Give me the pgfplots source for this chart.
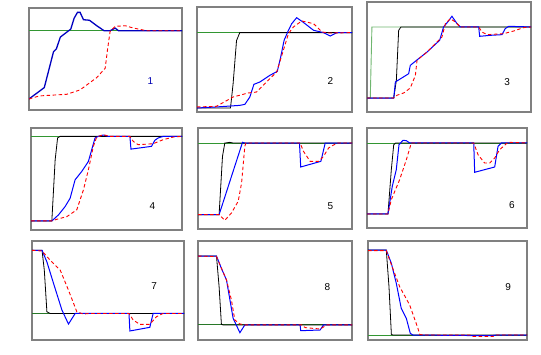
\documentclass[border=0pt]{standalone}
\usepackage{pgfplots}
\pgfplotsset{compat=1.18}
\usepackage{fontspec}
\setmainfont{Liberation Sans}
\definecolor{sp}{RGB}{50,150,50}
\definecolor{fr}{RGB}{128,128,128}
\pgfplotsset{
  panel/.style={scale only axis, anchor=south west, xmin=0, xmax=100, ymin=0, ymax=100,
    ticks=none, axis line style={fr, line width=1.1pt}, clip=true},
  spl/.style={sp, line width=0.9pt, mark=none},
  bk/.style={black, line width=0.8pt, mark=none},
  bl/.style={blue, line width=1pt, mark=none},
  rd/.style={red, line width=0.9pt, dash pattern=on 3.5pt off 2.5pt, mark=none},
}
\tikzset{lab/.style={font=\fontsize{10}{11}\selectfont}}
\begin{document}
\begin{tikzpicture}
\path[use as bounding box] (0,0) rectangle (541pt,355pt);
% Panel 1
\begin{axis}[panel, at={(29pt,245pt)}, width=153pt, height=102pt]
\addplot[spl] coordinates {(0,77.7) (100,77.7)};
\addplot[bl, line width=1.3pt, blue!75!black] coordinates {(0,10.8) (10,22) (16,57) (17.9,60) (20.5,71.5) (27.3,79.3) (29.5,90) (31.7,95.7) (33.4,95.7) (35.6,88.5) (39.5,88) (44.3,82.6) (49.1,77.7) (53,77.7) (56.3,80.3) (58.5,77.7) (100,77.7)};
\addplot[rd] coordinates {(0,10.8) (6.8,13.8) (24.7,15.4) (33.4,19.7) (44.3,31.8) (49.8,41) (51.3,59) (53,77) (56.3,82) (62.9,82.6) (68.3,80.3) (77,77.7) (100,77.7)};
\node[lab, text=blue!70!black] at (axis cs:79.3,27.9) {1};
\end{axis}
% Panel 2
\begin{axis}[panel, at={(197pt,243pt)}, width=155pt, height=105pt]
\addplot[spl] coordinates {(0,75.6) (100,75.6)};
\addplot[bk] coordinates {(0,3.8) (21.6,3.8) (23.3,27) (25.5,68) (27.6,75.6) (100,75.6)};
\addplot[bl] coordinates {(0,3.8) (12.5,4.8) (27.6,6.3) (30.9,7.3) (34.1,14.3) (36.7,26.3) (40.6,28.6) (47,34.9) (51.8,38.7) (54,52.4) (56.2,68.3) (59,77.8) (61.1,84.1) (64.3,89.8) (68.3,85.7) (75.2,77.8) (81.6,75.6) (86,72.4) (90.3,75.6) (100,75.6)};
\addplot[rd] coordinates {(0,4.8) (12.5,5.4) (16.8,8.9) (23.3,14.3) (33,18.1) (38.4,19) (43.8,27) (51.4,38.1) (55.7,58.7) (59,74.6) (62.2,81) (67.6,86.7) (75.2,84.1) (80.6,76.2) (86,75.2) (100,75.6)};
\node[lab] at (axis cs:86,29.5) {2};
\end{axis}
% Panel 3
\begin{axis}[panel, at={(367pt,243pt)}, width=164pt, height=110pt]
\addplot[spl, sp!70!white] coordinates {(0,12.7) (2,12.7) (3,77.3) (100,77.3)};
\addplot[bk] coordinates {(0,12.7) (16.3,12.7) (17.9,28.8) (19.3,74.2) (20.7,77.3) (100,77.3)};
\addplot[bl] coordinates {(0,12.7) (16.3,12.7) (17.3,27.3) (25.4,34.8) (26.4,42.4) (31.5,48.5) (36.6,54.5) (44.3,65.2) (46.7,77.3) (49.2,81.8) (51.8,87) (54.9,80.3) (56.9,77.3) (68.1,77.3) (68.7,68.8) (75.2,69.7) (82.3,70.3) (84.3,75.8) (86.4,77.9) (100,77.3)};
\addplot[rd] coordinates {(0,12.7) (16.3,12.7) (18.3,15.2) (22.4,17.3) (26.4,21.8) (29.5,33.3) (30.5,47) (36.6,54.5) (45.7,68.2) (47.8,80.3) (50.8,84.8) (53.9,81.8) (56.9,77.3) (68.1,77.3) (70.1,72.7) (73.2,70.3) (83.3,71.2) (89.4,73.6) (95.5,76.7) (100,77.3)};
\node[lab] at (axis cs:85.4,27.3) {3};
\end{axis}
% Panel 4
\begin{axis}[panel, at={(31pt,125pt)}, width=151pt, height=102pt]
\addplot[spl] coordinates {(0,91.8) (100,91.8)};
\addplot[bk] coordinates {(0,8.9) (13.8,8.9) (16,68.9) (17.6,90.2) (19.3,91.8) (100,91.8)};
\addplot[bl] coordinates {(0,8.9) (13.8,8.9) (18.2,14.8) (22.6,23) (25.9,31.1) (29.2,49.2) (33.6,57.4) (38,67.2) (40.2,78.7) (42.4,90.2) (44.6,91.8) (47.9,93.1) (51.2,91.8) (65.5,91.8) (66.2,79.3) (79.8,82) (82,87.9) (84.2,90.2) (87.5,91.8) (100,91.8)};
\addplot[rd] coordinates {(0,8.9) (13.8,8.9) (17.1,10.5) (23.7,13.1) (30.3,19.7) (34.7,39.3) (38,59) (41.3,82) (43.5,91.1) (47.9,93.4) (52.3,91.8) (65.5,91.8) (67.7,86.9) (71,83.6) (80.9,84.6) (87.5,88.5) (94.1,91.1) (100,91.8)};
\node[lab] at (axis cs:80.4,23) {4};
\end{axis}
% Panel 5
\begin{axis}[panel, at={(198pt,126pt)}, width=154pt, height=101pt]
\addplot[spl] coordinates {(0,85.1) (100,85.1)};
\addplot[bk] coordinates {(0,14.2) (13.7,14.2) (15.9,71.9) (17.4,85.1) (20.7,85.8) (22.8,85.1) (100,85.1)};
\addplot[bl] coordinates {(0,14.2) (13.7,14.2) (28.9,85.8) (30.4,85.1) (65.9,85.1) (66.7,61.4) (79.8,67) (82.6,85.1) (100,85.1)};
\addplot[rd] coordinates {(0,14.2) (13.7,14.2) (17.4,8.6) (21.7,15.8) (26.1,27.4) (28.3,45.5) (30.4,81.8) (31.1,85.1) (66.3,85.1) (68.5,76.9) (72.8,67) (78.3,67) (81.5,71.9) (84.8,80.2) (90.2,85.1) (100,85.1)};
\node[lab] at (axis cs:85.9,23.1) {5};
\end{axis}
% Panel 6
\begin{axis}[panel, at={(367pt,127pt)}, width=160pt, height=100pt]
\addplot[spl] coordinates {(0,85) (100,85)};
\addplot[bk] coordinates {(0,14) (13.1,14) (15.2,58.3) (16.7,83.3) (17.9,85) (100,85)};
\addplot[bl] coordinates {(0,14) (13.1,14) (15.8,41.7) (18.3,58.3) (20,83.3) (22.5,87.7) (24.6,87.3) (26.7,85) (66.7,85) (67.3,55.7) (79.8,61) (81.9,81.7) (84,85) (100,85)};
\addplot[rd] coordinates {(0,14) (13.1,14) (15.2,28.3) (20.4,48.3) (24.6,68.3) (27.7,85) (66.7,85) (69.4,73.3) (73.5,65) (76.7,65) (79.8,70) (82.9,78.3) (88.1,85.7) (100,85)};
\node[lab] at (axis cs:90.6,22.7) {6};
\end{axis}
% Panel 7
\begin{axis}[panel, at={(32pt,15pt)}, width=152pt, height=99pt]
\addplot[spl, sp!80!black] coordinates {(0,26.8) (100,26.8)};
\addplot[bk] coordinates {(0,90.6) (6.6,90.6) (8.1,70.5) (9.8,28.5) (12,26.8) (100,26.8)};
\addplot[bl] coordinates {(0,90.6) (6.6,90.6) (9.8,78.9) (14.2,57) (19.7,30.2) (24,16.1) (28.4,26.8) (63.8,26.8) (64.4,9.1) (77.5,12.8) (79.7,26.8) (100,26.8)};
\addplot[rd] coordinates {(0,90.6) (6.6,89.9) (12,80.5) (18.6,70.5) (24,50.3) (29.5,28.5) (33.8,26.2) (37.6,26.8) (63.8,26.8) (66.6,20.1) (71,15.8) (77.5,15.8) (81.9,23.5) (86.2,26.8) (100,26.8)};
\node[lab] at (axis cs:80.3,54.7) {7};
\end{axis}
% Panel 8
\begin{axis}[panel, at={(198pt,15pt)}, width=154pt, height=99pt]
\addplot[spl, sp!80!black] coordinates {(0,15.2) (100,15.2)};
\addplot[bk] coordinates {(0,84.8) (12,84.8) (13.7,53.9) (15.2,15.8) (16.3,15.2) (100,15.2)};
\addplot[bl] coordinates {(0,84.8) (12,84.8) (15.2,72.4) (18.5,60.6) (22.8,21.9) (27.2,7.4) (30.4,15.2) (66.3,15.2) (66.7,9.4) (79.3,10.1) (81.5,15.2) (100,15.2)};
\addplot[rd] coordinates {(0,84.8) (12,84.2) (18.5,60.6) (21.7,40.4) (23.9,20.2) (27.2,16.2) (30.4,15.2) (67.4,15.2) (69.6,12.5) (79.3,11.1) (83.7,15.2) (100,15.2)};
\node[lab] at (axis cs:84.1,53.9) {8};
\end{axis}
% Panel 9
\begin{axis}[panel, at={(368pt,15pt)}, width=159pt, height=99pt]
\addplot[spl] coordinates {(0,5) (100,5)};
\addplot[bk] coordinates {(0,90.9) (11.5,90.9) (13.2,53.9) (14.7,5.7) (15.7,5) (100,5)};
\addplot[bl] coordinates {(0,90.9) (11.5,90.9) (14.7,77.4) (17.8,57.2) (20.9,32) (24.1,21.9) (26.6,6.7) (28.3,5) (65,4.5) (78.6,4.5) (80.7,5) (100,5)};
\addplot[rd] coordinates {(0,90.2) (11.5,90.2) (13.6,80.8) (19.9,53.9) (26.2,35.4) (31.4,11.8) (32.5,5.7) (34.6,5) (65,5) (66,3.6) (78.6,3.6) (80.7,5) (100,5)};
\node[lab] at (axis cs:88.1,53.9) {9};
\end{axis}
\end{tikzpicture}
\end{document}
